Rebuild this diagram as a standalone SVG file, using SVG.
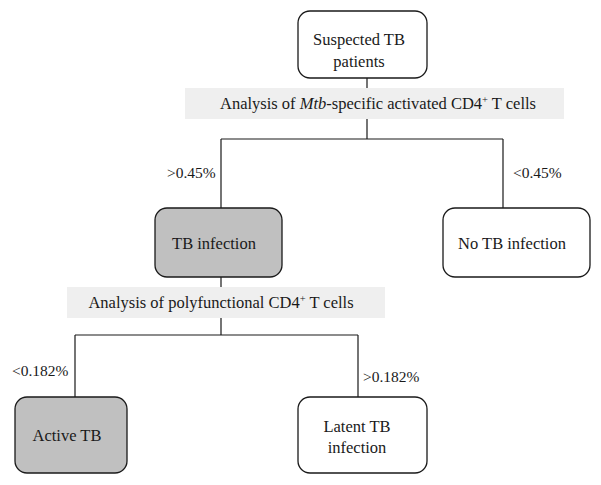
<svg xmlns="http://www.w3.org/2000/svg" width="601" height="485" viewBox="0 0 601 485">
<style>
text{font-family:"Liberation Serif","Times New Roman",serif;font-size:16.5px;fill:#1a1a1a}
.lbl{font-size:15.5px}
.box{stroke:#1a1a1a;stroke-width:1.3;fill:#fff}
.dark{fill:#c0c0c0}
.band{fill:#efefef}
.line{stroke:#1a1a1a;stroke-width:1.2;fill:none}
.sup{font-size:10.5px}
</style>
<rect width="601" height="485" fill="#fff"/>
<g id="connectors">
<path class="line" d="M367 78V88M367 119V139M221 139H503M221 139V208M503 139V208M221 277V287M221 318V335M75 335H358M75 335V397M358 335V397"/>
</g>
<g id="band1">
<rect class="band" x="185" y="88" width="379" height="31"/>
<text x="378" y="109" text-anchor="middle">Analysis of <tspan font-style="italic">Mtb</tspan>-specific activated CD4<tspan class="sup" dy="-6">+</tspan><tspan dy="6">  T cells</tspan></text>
</g>
<g id="band2">
<rect class="band" x="67" y="287" width="318" height="31"/>
<text x="221" y="308" text-anchor="middle">Analysis of polyfunctional CD4<tspan class="sup" dy="-6">+</tspan><tspan dy="6">  T cells</tspan></text>
</g>
<g id="suspected">
<rect class="box" x="298" y="11" width="129" height="67" rx="12"/>
<text x="359" y="45" text-anchor="middle">Suspected TB</text>
<text x="359" y="67" text-anchor="middle">patients</text>
</g>
<g id="tb-infection">
<rect class="box dark" x="155" y="208" width="127" height="69" rx="12"/>
<text x="214" y="249" text-anchor="middle">TB infection</text>
</g>
<g id="no-tb">
<rect class="box" x="443" y="208" width="147" height="69" rx="12"/>
<text x="512" y="249" text-anchor="middle">No TB infection</text>
</g>
<g id="active-tb">
<rect class="box dark" x="15" y="397" width="112" height="76" rx="12"/>
<text x="67" y="441" text-anchor="middle">Active TB</text>
</g>
<g id="latent-tb">
<rect class="box" x="298" y="397" width="129" height="76" rx="12"/>
<text x="357" y="432" text-anchor="middle">Latent TB</text>
<text x="357" y="453" text-anchor="middle">infection</text>
</g>
<g id="labels">
<text class="lbl" x="167" y="178">&gt;0.45%</text>
<text class="lbl" x="513" y="178">&lt;0.45%</text>
<text class="lbl" x="12" y="376">&lt;0.182%</text>
<text class="lbl" x="363" y="382">&gt;0.182%</text>
</g>
</svg>
